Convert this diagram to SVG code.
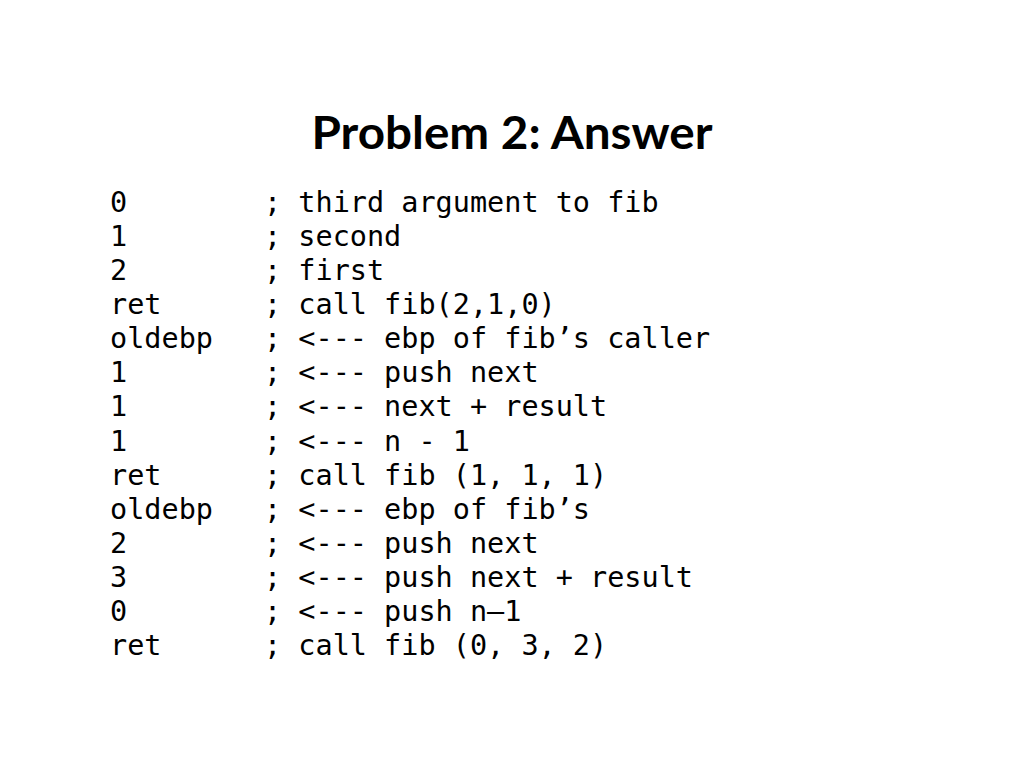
<svg xmlns="http://www.w3.org/2000/svg" width="1024" height="768" viewBox="0 0 1024 768">
<style>
.title{font-family:"Lato","Open Sans","DejaVu Sans",sans-serif;font-weight:bold;font-size:46px;fill:#000}
.code{font-family:"DejaVu Sans Mono","Liberation Mono",monospace;font-size:28.5px;fill:#000}
</style>
<rect width="1024" height="768" fill="#fff"/>
<text class="title" x="512" y="149" text-anchor="middle" textLength="401" lengthAdjust="spacingAndGlyphs">Problem 2: Answer</text>
<g id="col-values" class="code">
<text x="110" y="212">0</text>
<text x="110" y="246">1</text>
<text x="110" y="280">2</text>
<text x="110" y="314">ret</text>
<text x="110" y="348">oldebp</text>
<text x="110" y="382">1</text>
<text x="110" y="416">1</text>
<text x="110" y="451">1</text>
<text x="110" y="485">ret</text>
<text x="110" y="519">oldebp</text>
<text x="110" y="553">2</text>
<text x="110" y="587">3</text>
<text x="110" y="621">0</text>
<text x="110" y="655">ret</text>
</g>
<g id="col-comments" class="code">
<text x="264" y="212">; third argument to fib</text>
<text x="264" y="246">; second</text>
<text x="264" y="280">; first</text>
<text x="264" y="314">; call fib(2,1,0)</text>
<text x="264" y="348">; &lt;--- ebp of fib’s caller</text>
<text x="264" y="382">; &lt;--- push next</text>
<text x="264" y="416">; &lt;--- next + result</text>
<text x="264" y="451">; &lt;--- n - 1</text>
<text x="264" y="485">; call fib (1, 1, 1)</text>
<text x="264" y="519">; &lt;--- ebp of fib’s</text>
<text x="264" y="553">; &lt;--- push next</text>
<text x="264" y="587">; &lt;--- push next + result</text>
<text x="264" y="621">; &lt;--- push n–1</text>
<text x="264" y="655">; call fib (0, 3, 2)</text>
</g>
</svg>
